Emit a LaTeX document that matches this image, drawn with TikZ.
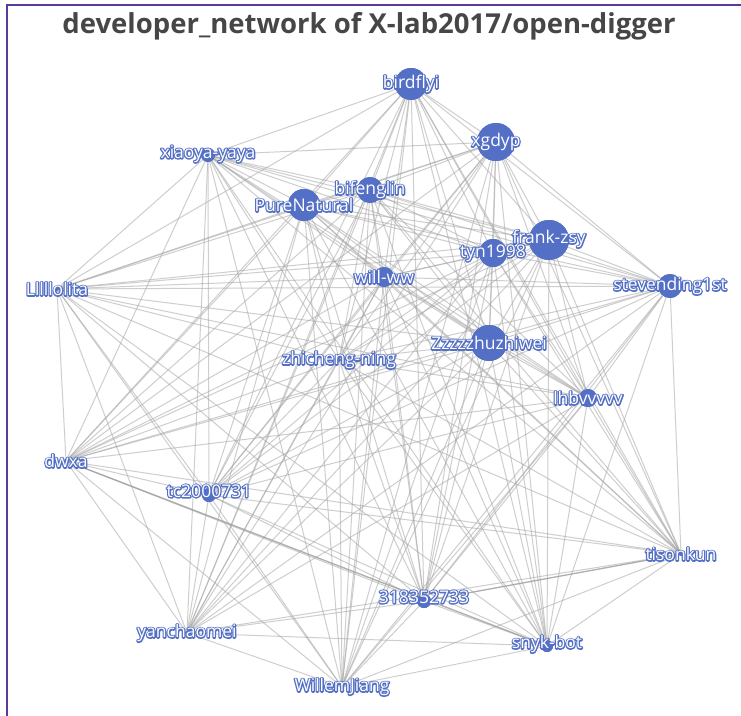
\documentclass[tikz,border=0pt]{standalone}
\usepackage{fontspec}
\setmainfont{Open Sans}
\definecolor{nodeblue}{HTML}{5470C6}
\definecolor{frame}{HTML}{5B3A9E}
\definecolor{titlegray}{HTML}{464646}
\newcommand{\lblfont}{\fontsize{17.5}{20}\selectfont}
% blue outline stroke (text render mode 1) laid under the white glyphs
\newcommand{\outlined}[1]{\rlap{\special{pdf:literal direct q 1 Tr 2.5 w 1 J 1 j 0.329 0.439 0.776 RG}#1\special{pdf:literal direct Q}}#1}
\tikzset{
  edge/.style={draw=gray!70, line width=1pt, opacity=0.55},
  heavy/.style={draw=gray!80, line width=1.3pt, opacity=0.6},
  dev/.style={circle, fill=nodeblue, inner sep=0pt, minimum size=#1},
  dev/.default=4pt,
  lbl/.style={inner sep=0pt, text=white, font=\lblfont},
}
\newcommand{\devlabel}[3][0pt]{\node[lbl] (t-#2) at ([yshift=#1]#2.center) {\outlined{#3}};}
\begin{document}
\begin{tikzpicture}[x=1pt,y=-1pt]
\useasboundingbox (0,0) rectangle (741,715);
\fill[white] (0,0) rectangle (741,715);
% frame
\draw[frame, line width=2pt] (7,716) -- (7,5) -- (742,5);
% title
\node[font=\fontsize{27.5}{32}\selectfont\bfseries, text=titlegray, anchor=base, inner sep=0pt] (title) at (369,33) {developer\_network of X-lab2017/open-digger};
% developers
\node[dev=32pt] (bird)   at (411,84)  {};
\node[dev=38pt] (xgd)    at (496,142) {};
\node[dev=26pt] (bif)    at (370,190) {};
\node[dev=32pt] (pure)   at (304,205) {};
\node[dev=14pt] (xiao)   at (208,155) {};
\node[dev=40pt] (frank)  at (549,240) {};
\node[dev=28pt] (tyn)    at (493,253) {};
\node[dev=20pt] (will)   at (384,277) {};
\node[dev]      (lolita) at (57,289)  {};
\node[dev=24pt] (steve)  at (670,286) {};
\node[dev]      (zhi)    at (339,360) {};
\node[dev=36pt] (zzz)    at (489,343) {};
\node[dev=18pt] (lhb)    at (588,398) {};
\node[dev]      (dwxa)   at (66,461)  {};
\node[dev=14pt] (tc)     at (209,495) {};
\node[dev]      (tison)  at (681,554) {};
\node[dev=14pt] (num)    at (424,601) {};
\node[dev]      (yan)    at (187,633) {};
\node[dev=12pt] (snyk)   at (547,646) {};
\node[dev]      (willem) at (342,687) {};
% collaboration links: every pair of developers
\def\devlist{bird,xgd,bif,pure,xiao,frank,tyn,will,lolita,steve,zhi,zzz,lhb,dwxa,tc,tison,num,yan,snyk,willem}
\foreach \a [count=\i] in \devlist {
  \foreach \b [count=\j] in \devlist {
    \ifnum\j>\i \draw[edge] (\a) -- (\b); \fi
  }
}
\draw[heavy] (dwxa) -- (snyk);
\draw[heavy] (num) -- (tison);
% developer discs over the links
\foreach \n/\s in {bird/32,xgd/38,bif/26,pure/32,xiao/14,frank/40,tyn/28,will/20,steve/24,zzz/36,lhb/18,tc/14,num/14,snyk/12}
  \fill[nodeblue] (\n.center) circle (\s/2*1pt);
% labels
\devlabel{bird}{birdflyi}
\devlabel{xgd}{xgdyp}
\devlabel{bif}{bifenglin}
\devlabel{pure}{PureNatural}
\devlabel[1pt]{xiao}{xiaoya-yaya}
\devlabel[1pt]{frank}{frank-zsy}
\devlabel{tyn}{tyn1998}
\devlabel{will}{will-ww}
\devlabel{lolita}{Lllllolita}
\devlabel{steve}{stevending1st}
\devlabel{zhi}{zhicheng-ning}
\devlabel{zzz}{Zzzzzhuzhiwei}
\devlabel{lhb}{lhbvvvvv}
\devlabel{dwxa}{dwxa}
\devlabel[4pt]{tc}{tc2000731}
\devlabel{tison}{tisonkun}
\devlabel[4pt]{num}{318352733}
\devlabel{yan}{yanchaomei}
\devlabel[2pt]{snyk}{snyk-bot}
\devlabel{willem}{WillemJiang}
\end{tikzpicture}
\end{document}
